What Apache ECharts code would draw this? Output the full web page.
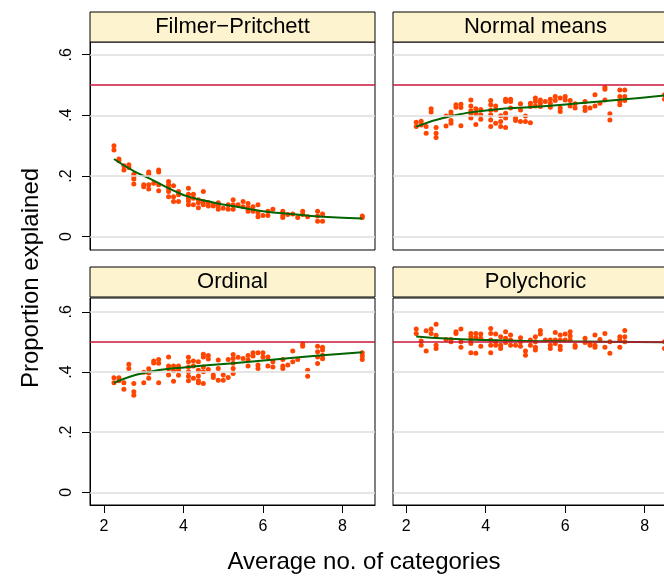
<!DOCTYPE html>
<html>
<head>
<meta charset="utf-8">
<script src="https://cdn.jsdelivr.net/npm/echarts@6/dist/echarts.min.js"></script>
<style>
  html, body { margin: 0; padding: 0; background: #fff; }
  #chart { width: 664px; height: 576px; }
</style>
</head>
<body>
<div id="chart"></div>
<script>
// average number of categories (shared x positions)
const avgCats = [2.25, 2.375, 2.5, 2.625, 2.75, 3, 3.125, 3.25, 3.375, 3.625, 3.75, 3.875, 4.125, 4.25, 4.375,
  4.5, 4.625, 4.75, 4.875, 5, 5.125, 5.25, 5.375, 5.5, 5.625, 5.75, 5.875, 6, 6.125, 6.25, 6.5, 6.625,
  6.75, 6.875, 7, 7.125, 7.375, 7.5, 8.5]

// proportion explained, one list per x position
const filmerY = [[.300, .286], [.256, .250], [.234, .220], [.237, .228], [.206, .198, .190, .174], [.171, .165],
  [.213, .206, .171, .157], [.176], [.220, .213, .171, .151], [.182, .171, .160, .149, .132], [.168, .132, .116],
  [.149, .138, .116], [.160, .140, .127, .118, .105], [.140, .127, .105], [.122, .112, .095], [.149, .116, .105],
  [.112, .101], [.105, .101], [.112, .101, .090], [.094], [.105, .090], [.122, .105, .090], [.105], [.116, .099],
  [.109, .095, .084], [.099, .084], [.105, .079, .066], [.070], [.084, .070], [.090], [.084, .070, .063], [.073],
  [.075], [.063], [.084, .073], [.066], [.084, .068, .051], [.075, .051], [.068, .063]]

const normalY = [[.377, .363], [.381, .368], [.363, .341], [.422, .411], [.360, .341, .327], [.398, .365],
  [.411, .402, .383, .374], [.435, .427], [.437, .426, .366], [.451, .431, .415, .407, .391], [.422, .405, .370],
  [.419, .402, .387], [.449, .435, .418, .402, .385, .363], [.431, .418, .374], [.399, .380, .363],
  [.453, .446, .407, .391, .360], [.453, .446, .424], [.391, .383], [.438, .418, .380], [.398, .380],
  [.440, .429, .376], [.457, .446, .431], [.451, .440, .429], [.446], [.453, .440, .427], [.462, .449],
  [.457, .424, .413], [.462, .451], [.449, .431], [.438, .424], [.446, .427, .416], [.424], [.468, .431], [.440],
  [.493, .486, .451], [.405, .385], [.484, .462, .446, .435], [.484, .462, .449], [.468, .453]]

const ordinalY = [[.381, .364], [.381, .371], [.364, .343], [.426, .412], [.362, .334, .323], [.399, .364],
  [.411, .397, .379], [.437, .430], [.442, .429, .364], [.450, .420, .411, .390], [.420, .404, .369],
  [.420, .407, .389], [.449, .434, .417, .401, .386, .371], [.437, .420, .379], [.434, .406, .387, .371, .364],
  [.459, .450, .417, .401, .362], [.455, .443, .408], [.390, .382], [.440, .412, .373], [.390, .373], [.442, .382],
  [.458, .445, .429, .412, .395], [.449], [.445], [.455, .440, .420], [.464, .453], [.464, .423, .412], [.464, .450],
  [.450, .420], [.434, .417], [.442, .420, .412], [.423], [.470, .434], [.442], [.493, .486], [.406, .386],
  [.486, .467, .450, .428], [.482, .473, .456, .444], [.464, .453, .442]]

const polyY = [[.543, .528], [.503, .489], [.537, .470], [.543, .528], [.559, .522, .489, .478], [.508], [.508, .501],
  [.534, .528], [.543, .501, .482], [.528, .517, .506, .495, .464], [.528, .515, .462], [.526, .512, .486],
  [.545, .528, .506, .489, .464], [.526, .501, .489], [.517, .489, .478], [.534, .512, .498], [.523, .506, .489],
  [.489], [.514, .501, .486], [.470, .456], [.506, .489], [.517, .501, .482, .473], [.538, .526], [.506],
  [.506, .489, .478], [.531, .506, .495], [.523, .506, .486, .475], [.526, .506], [.534, .520, .506], [.489, .482],
  [.512, .498], [.495, .489], [.523, .489, .482], [.508], [.528, .482], [.501, .462], [.517, .506, .482],
  [.538, .517, .501], [.501, .478]]

// smoothed fit lines
const filmerFitX = [2.25, 2.75, 3.125, 3.75, 4.125, 4.75, 5.375, 6, 6.75, 7.5, 8.5]
const filmerFitY = [.256, .216, .193, .152, .132, .113, .098, .084, .074, .066, .060]
const normalFitX = [2.25, 3, 4.125, 5.375, 6.5, 7.5, 8.5]
const normalFitY = [.363, .394, .418, .429, .442, .453, .466]
const ordinalFitX = [2.25, 3, 4.125, 5.25, 6.5, 7.5, 8.5]
const ordinalFitY = [.364, .397, .417, .429, .444, .456, .466]
const polyFitX = [2.25, 3, 4, 5, 6, 7, 8.5]
const polyFitY = [.518, .511, .506, .503, .502, .501, .499]

const panelNames = ['Filmer−Pritchett', 'Normal means', 'Ordinal', 'Polychoric']
const yTicks = [0, 0.2, 0.4, 0.6]
const xTicks = [2, 4, 6, 8]
const refValue = 0.5

const panelY = [filmerY, normalY, ordinalY, polyY]
const panelFit = [[filmerFitX, filmerFitY], [normalFitX, normalFitY], [ordinalFitX, ordinalFitY], [polyFitX, polyFitY]]

const FONT = '"Liberation Sans", Arial, Helvetica, sans-serif'

function toPoints(ys) {
  const pts = []
  ys.forEach((arr, i) => arr.forEach(v => pts.push([avgCats[i], v])))
  return pts
}

// panel layout (right column runs past the window edge, as in the original)
const grids = [
  { left: 90, top: 42, width: 285, height: 208 },
  { left: 393, top: 42, width: 285, height: 208 },
  { left: 90, top: 298, width: 285, height: 207 },
  { left: 393, top: 298, width: 285, height: 207 }
]
const yRange = [[-0.044, 0.642], [-0.044, 0.642], [-0.042, 0.646], [-0.042, 0.646]]
const xRange = [[1.647, 8.82], [1.665, 8.84], [1.647, 8.82], [1.665, 8.84]]

const chart = echarts.init(document.getElementById('chart'))

const xAxis = []
const yAxis = []
const series = []
const graphic = []

grids.forEach((g, i) => {
  const isLeft = i % 2 === 0
  const isBottom = i >= 2
  xAxis.push({
    gridIndex: i,
    type: 'value',
    min: xRange[i][0],
    max: xRange[i][1],
    splitLine: { show: false },
    axisLine: { show: isBottom, onZero: false, lineStyle: { color: '#000', width: 1 } },
    axisTick: { show: isBottom, length: 8, customValues: xTicks, lineStyle: { color: '#000', width: 1 } },
    axisLabel: { show: isBottom, customValues: xTicks, margin: 14, color: '#000', fontSize: 16, fontFamily: FONT }
  })
  yAxis.push({
    gridIndex: i,
    type: 'value',
    min: yRange[i][0],
    max: yRange[i][1],
    splitLine: { show: false },
    axisLine: { show: isLeft, onZero: false, lineStyle: { color: '#000', width: 1 } },
    axisTick: { show: isLeft, length: 8, customValues: yTicks, lineStyle: { color: '#000', width: 1 } },
    axisLabel: {
      show: isLeft, customValues: yTicks, rotate: 90, margin: 15, color: '#000', fontSize: 16, fontFamily: FONT,
      formatter: v => (v === 0 ? '0' : String(+v.toFixed(1)).replace('0.', '.'))
    }
  })

  // gridlines
  series.push({
    type: 'line', xAxisIndex: i, yAxisIndex: i, data: [], z: 1, silent: true,
    markLine: {
      symbol: 'none', silent: true, animation: false, label: { show: false },
      lineStyle: { color: '#dcdcdc', width: 1.5, type: 'solid' },
      data: yTicks.map(v => ({ yAxis: v }))
    }
  })
  // reference line at .5
  series.push({
    type: 'line', xAxisIndex: i, yAxisIndex: i, data: [], z: 2, silent: true,
    markLine: {
      symbol: 'none', silent: true, animation: false, label: { show: false },
      lineStyle: { color: '#c8143c', width: 1.5, type: 'solid' },
      data: [{ yAxis: refValue }]
    }
  })
  series.push({
    type: 'scatter', xAxisIndex: i, yAxisIndex: i, z: 3,
    data: toPoints(panelY[i]),
    symbol: 'circle', symbolSize: 5,
    itemStyle: { color: '#ff4500', opacity: 1 }
  })
  const fx = panelFit[i][0], fy = panelFit[i][1]
  series.push({
    type: 'line', xAxisIndex: i, yAxisIndex: i, z: 4,
    data: fx.map((x, k) => [x, fy[k]]),
    smooth: true, showSymbol: false, symbol: 'none',
    lineStyle: { color: '#006400', width: 2 }
  })

  // strip header
  const sy = isBottom ? 267 : 12
  graphic.push({
    type: 'rect', shape: { x: g.left, y: sy, width: g.width, height: 30 },
    style: { fill: '#fdf3cf', stroke: '#000', lineWidth: 1 }, z: 10
  })
  graphic.push({
    type: 'text', x: g.left + g.width / 2, y: sy + 15, z: 11,
    style: { text: panelNames[i], fill: '#000', font: '22px ' + FONT, textAlign: 'center', textVerticalAlign: 'middle' }
  })
})

graphic.push({
  type: 'text', x: 364, y: 562,
  style: { text: 'Average no. of categories', fill: '#000', font: '24px ' + FONT, textAlign: 'center', textVerticalAlign: 'middle' }
})
graphic.push({
  type: 'text', x: 31, y: 278, rotation: Math.PI / 2,
  style: { text: 'Proportion explained', fill: '#000', font: '24px ' + FONT, textAlign: 'center', textVerticalAlign: 'middle' }
})

chart.setOption({
  animation: false,
  backgroundColor: '#fff',
  grid: grids.map(g => Object.assign({
    show: true, borderColor: '#000', borderWidth: 1, backgroundColor: '#fff', outerBoundsMode: 'none'
  }, g)),
  xAxis: xAxis,
  yAxis: yAxis,
  series: series,
  graphic: graphic
})
</script>
</body>
</html>
